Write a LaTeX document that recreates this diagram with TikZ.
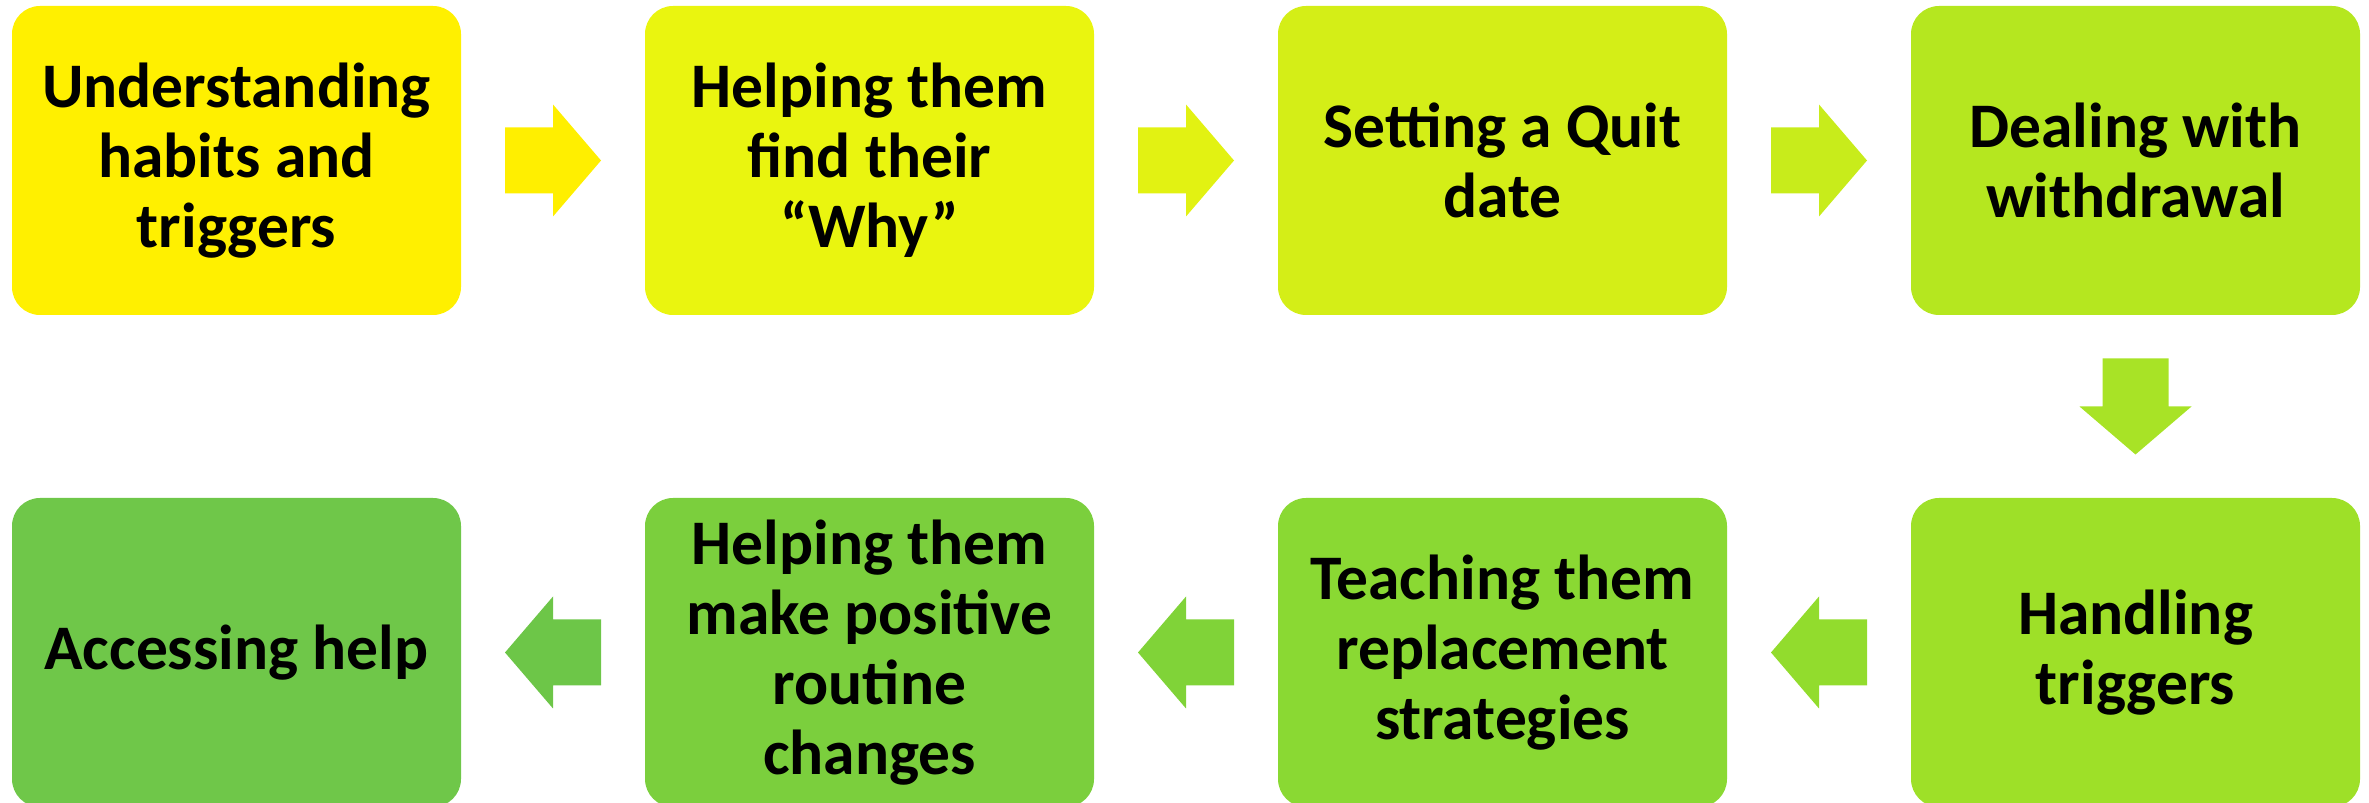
\documentclass[tikz,border=0pt]{standalone}
\usepackage{fontspec}
\setmainfont{Carlito}
\usetikzlibrary{calc}
\definecolor{cA}{HTML}{FFF000}
\definecolor{cB}{HTML}{EAF50F}
\definecolor{cC}{HTML}{D4EE17}
\definecolor{cD}{HTML}{B5E71F}
\definecolor{cE}{HTML}{9EE028}
\definecolor{cF}{HTML}{8AD933}
\definecolor{cG}{HTML}{7BCF3D}
\definecolor{cH}{HTML}{6FC749}
\definecolor{aA}{HTML}{FFEF00}
\definecolor{aB}{HTML}{E2F212}
\definecolor{aC}{HTML}{C8EC1B}
\definecolor{aD}{HTML}{A8E326}
\definecolor{aE}{HTML}{92DC2D}
\definecolor{aF}{HTML}{80D338}
\definecolor{aG}{HTML}{6DC648}
\begin{document}
\begin{tikzpicture}[x=1pt,y=1pt,
  stepbox/.style={rectangle, rounded corners=28pt, minimum width=449pt,
    minimum height=309pt, inner sep=0pt, align=center, text=black,
    font=\fontsize{63.5}{70}\selectfont\bfseries},
  pics/blockarrow/.style={code={
    \fill[#1] (-48,-33) -- (0,-33) -- (0,-56) -- (48,0) -- (0,56) -- (0,33) -- (-48,33) -- cycle;}}]
\useasboundingbox (0,0) rectangle (2369,803);
% row 1
\node[stepbox, fill=cA] (b1) at (236.5,642.5) {Understanding\\habits and\\triggers};
\node[stepbox, fill=cB] (b2) at (869.5,642.5) {Helping them\\find their\\“Why”};
\node[stepbox, fill=cC] (b3) at (1502.5,642.5) {Setting a Quit\\date};
\node[stepbox, fill=cD] (b4) at (2135.5,642.5) {Dealing with\\withdrawal};
% row 2
\node[stepbox, fill=cE] (b5) at (2135.5,150.5) {Handling\\triggers};
\node[stepbox, fill=cF] (b6) at (1502.5,150.5) {Teaching them\\replacement\\strategies};
\node[stepbox, fill=cG] (b7) at (869.5,150.5) {Helping them\\make positive\\routine\\changes};
\node[stepbox, fill=cH] (b8) at (236.5,150.5) {Accessing help};
% arrows
\coordinate (m12) at ($(b1.east)!0.5!(b2.west)$);
\coordinate (m23) at ($(b2.east)!0.5!(b3.west)$);
\coordinate (m34) at ($(b3.east)!0.5!(b4.west)$);
\coordinate (m45) at ($(b4.south)!0.5!(b5.north)$);
\coordinate (m56) at ($(b5.west)!0.5!(b6.east)$);
\coordinate (m67) at ($(b6.west)!0.5!(b7.east)$);
\coordinate (m78) at ($(b7.west)!0.5!(b8.east)$);
\path (m12) pic {blockarrow=aA};
\path (m23) pic {blockarrow=aB};
\path (m34) pic {blockarrow=aC};
\path (m45) pic[rotate=-90] {blockarrow=aD};
\path (m56) pic[rotate=180] {blockarrow=aE};
\path (m67) pic[rotate=180] {blockarrow=aF};
\path (m78) pic[rotate=180] {blockarrow=aG};
\end{tikzpicture}
\end{document}
